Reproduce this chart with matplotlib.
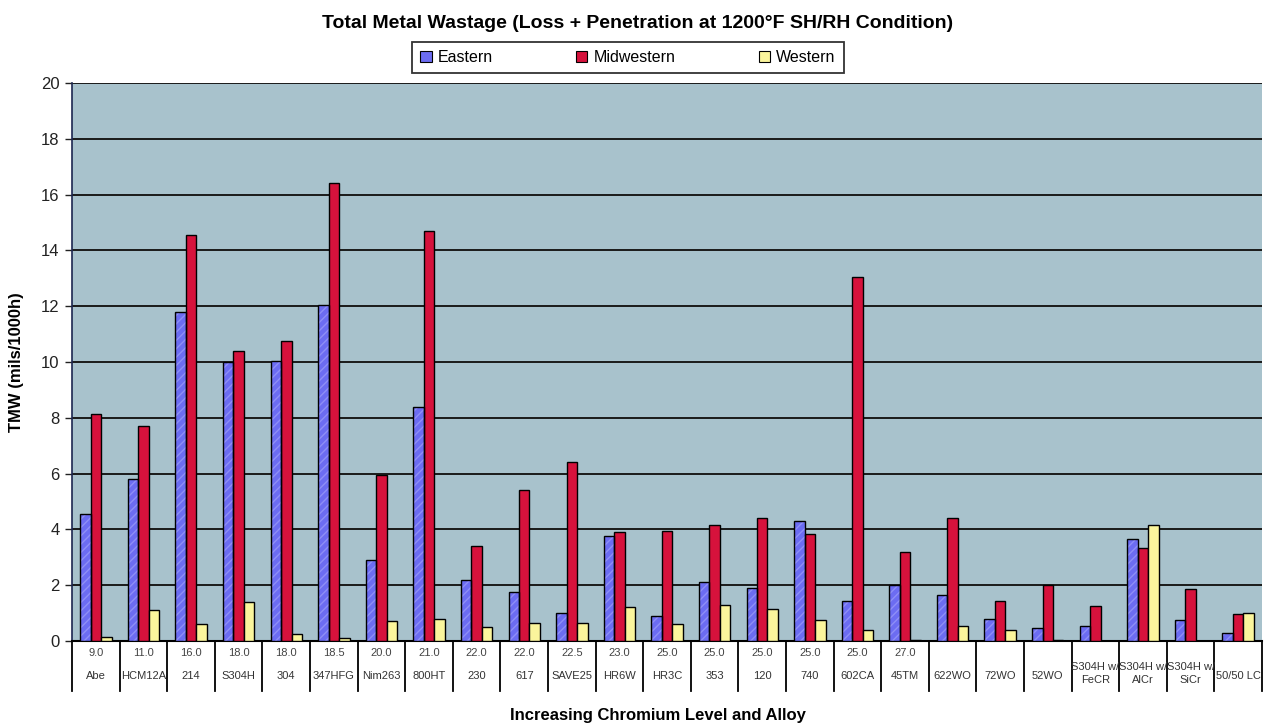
import matplotlib
matplotlib.use("Agg")
import matplotlib.pyplot as plt
import numpy as np
from matplotlib.patches import Patch

plt.rcParams['font.family'] = ['Liberation Sans', 'DejaVu Sans']

cr_levels = ["9.0", "11.0", "16.0", "18.0", "18.0", "18.5", "20.0", "21.0", "22.0", "22.0",
             "22.5", "23.0", "25.0", "25.0", "25.0", "25.0", "25.0", "27.0", "", "", "", "", "", "", ""]
alloys = ["Abe", "HCM12A", "214", "S304H", "304", "347HFG", "Nim263", "800HT", "230", "617",
          "SAVE25", "HR6W", "HR3C", "353", "120", "740", "602CA", "45TM", "622WO", "72WO",
          "52WO", "S304H w/\nFeCR", "S304H w/\nAlCr", "S304H w/\nSiCr", "50/50 LC"]

eastern = [4.55, 5.8, 11.8, 10.0, 10.05, 12.05, 2.9, 8.4, 2.2, 1.75,
           1.0, 3.75, 0.9, 2.1, 1.9, 4.3, 1.45, 2.0, 1.65, 0.8,
           0.45, 0.55, 3.65, 0.75, 0.3]
midwestern = [8.15, 7.7, 14.55, 10.4, 10.75, 16.4, 5.95, 14.7, 3.4, 5.4,
              6.4, 3.9, 3.95, 4.15, 4.4, 3.85, 13.05, 3.2, 4.4, 1.45,
              2.0, 1.25, 3.35, 1.85, 0.95]
western = [0.15, 1.1, 0.6, 1.4, 0.25, 0.1, 0.7, 0.8, 0.5, 0.65,
           0.65, 1.2, 0.6, 1.3, 1.15, 0.75, 0.4, 0.05, 0.55, 0.4,
           0.05, 0.0, 4.15, 0.0, 1.0]

c_east = "#6c6cf2"
c_mid = "#d6123c"
c_west = "#fbf59c"
bg = "#a8c2cc"

fig = plt.figure(figsize=(12.65, 7.25), dpi=100)
ax = fig.add_axes([0.057, 0.1159, 0.9406, 0.7696])
ax.set_facecolor(bg)

n = len(alloys)
x = np.arange(n)
w = 0.22

# Eastern bars carry a faint diagonal texture
ax.bar(x - w, eastern, w, color=c_east, edgecolor="#8e8ef7", hatch="////",
       linewidth=0, zorder=3)
ax.bar(x - w, eastern, w, fill=False, edgecolor="black", linewidth=1.0, zorder=4)
ax.bar(x, midwestern, w, color=c_mid, edgecolor="black", linewidth=1.0, zorder=3)
wv = np.array(western)
ax.bar(x[wv > 0] + w, wv[wv > 0], w, color=c_west, edgecolor="black", linewidth=1.0,
       zorder=3)

ax.set_xlim(-0.5, n - 0.5)
ax.set_ylim(0, 20)
ax.set_yticks(np.arange(0, 21, 2))
ax.yaxis.grid(True, color="#1a1a1a", linewidth=1.4, zorder=1)
ax.set_axisbelow(True)
ax.tick_params(axis="y", labelsize=12, length=5, width=1, pad=4, colors="#222222")
ax.set_xticks([])
ax.spines["top"].set_visible(False)
ax.spines["right"].set_visible(False)
ax.spines["left"].set_color("#1c2650")
ax.spines["left"].set_linewidth(1.2)
ax.spines["bottom"].set_color("black")
ax.spines["bottom"].set_linewidth(1.5)

# category table under the axis
trans = matplotlib.transforms.blended_transform_factory(ax.transData, ax.transAxes)
for b in np.arange(-0.5, n, 1.0):
    ax.plot([b, b], [0, -0.09], transform=trans, color="black", linewidth=1.3,
            clip_on=False)
for i in range(n):
    if cr_levels[i]:
        ax.text(x[i], -0.022, cr_levels[i], transform=trans, ha="center", va="center",
                fontsize=8, color="#444444")
    if "\n" in alloys[i]:
        ax.text(x[i], -0.058, alloys[i], transform=trans, ha="center", va="center",
                fontsize=8, color="#333333", linespacing=1.3)
    else:
        ax.text(x[i], -0.062, alloys[i], transform=trans, ha="center", va="center",
                fontsize=8, color="#333333")

ax.set_ylabel("TMW (mils/1000h)", fontsize=12, fontweight="bold", labelpad=12)
fig.text(0.52, 0.003, "Increasing Chromium Level and Alloy", ha="center", va="bottom",
         fontsize=12, fontweight="bold")
fig.text(0.504, 0.968, "Total Metal Wastage (Loss + Penetration at 1200°F SH/RH Condition)",
         ha="center", va="center", fontsize=14, fontweight="bold")

handles = [Patch(facecolor=c_east, edgecolor="black", linewidth=0.8),
           Patch(facecolor=c_mid, edgecolor="black", linewidth=0.8),
           Patch(facecolor=c_west, edgecolor="black", linewidth=0.8)]
leg = fig.legend(handles, ["Eastern", "Midwestern", "Western"], ncol=3,
                 loc="center", bbox_to_anchor=(0.4965, 0.921), fontsize=11.5,
                 frameon=True, fancybox=False, edgecolor="black",
                 handlelength=0.7, handleheight=0.7, handletextpad=0.4,
                 columnspacing=5.2, borderpad=0.5, borderaxespad=0)
leg.get_frame().set_linewidth(1.3)

fig.savefig("out.png", dpi=100)
